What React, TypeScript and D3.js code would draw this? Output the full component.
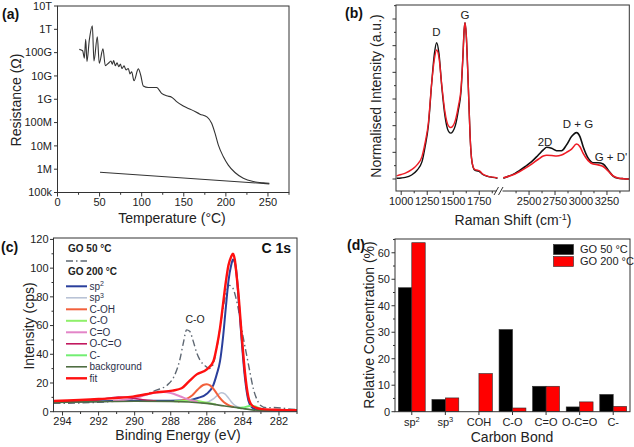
import React from 'react'
import * as d3 from 'd3'

const FONT = 'Arial, "Liberation Sans", Helvetica, sans-serif'
const RED = '#ee1c25'

// ---------- (a) resistance vs temperature ----------
const heatTemp = [25.9, 29.9, 31.9, 33.5, 35.0, 37.8, 41.4, 43.3, 47.3, 49.6, 54.0, 56.8, 60.4, 63.5, 65.1, 66.7, 68.7, 70.7, 72.7, 74.7, 76.6, 79.0, 81.4, 84.1, 86.1, 88.1, 90.9, 96.0, 98.8, 101.9, 107.8, 117.8, 123.7, 129.7, 135.6, 141.5, 149.4, 159.4, 169.2, 177.9, 183.1, 187.1, 191.0, 196.9, 202.9, 210.8, 220.7, 232.5, 244.4, 251.6]
const heatRes = [1.38e11, 1.2e11, 5.8e10, 3.7e11, 4.1e10, 3.5e11, 1.4e12, 4.4e10, 4.8e11, 3.5e10, 1.45e11, 2.75e10, 3.5e10, 4.4e10, 3.2e10, 4.6e10, 2.75e10, 3.7e10, 2.5e10, 3.2e10, 2.1e10, 2.7e10, 1.8e10, 2.1e10, 1.23e10, 1.5e10, 6.2e9, 2.0e10, 1.1e10, 3.7e9, 3.2e9, 3.2e9, 1.8e9, 1.4e9, 1.23e9, 7.9e8, 5.1e8, 3.5e8, 2.3e8, 1.7e8, 9.3e7, 3.5e7, 1.1e7, 3.5e6, 1.5e6, 7.2e5, 4.1e5, 2.95e5, 2.6e5, 2.5e5]
const coolTemp = [50.5, 251.6]
const coolRes = [7.4e5, 2.35e5]
const resTicks = [1e5, 1e6, 1e7, 1e8, 1e9, 1e10, 1e11, 1e12, 1e13]
const resLabels = ['100k', '1M', '10M', '100M', '1G', '10G', '100G', '1T', '10T']
const tempTicks = [0, 50, 100, 150, 200, 250]

// ---------- (b) Raman ----------
const wnLow = [956, 1000, 1040, 1100, 1150, 1200, 1229, 1261, 1293, 1319, 1340, 1363, 1389, 1421, 1453, 1475, 1495, 1520, 1550, 1575, 1593, 1605, 1613, 1625, 1638, 1650, 1662, 1675, 1690, 1710, 1735, 1755, 1780, 1830, 1880, 1925]
const go50Low = [0.03, 0.04, 0.06, 0.15, 0.32, 0.65, 1.2, 2.0, 3.6, 4.7, 5.11, 4.7, 3.5, 2.35, 1.8, 1.72, 1.78, 2.0, 2.6, 3.3, 4.6, 5.6, 5.86, 5.4, 4.2, 2.9, 1.6, 0.8, 0.45, 0.32, 0.3, 0.27, 0.18, 0.1, 0.06, 0.03]
const go200Low = [0.12, 0.17, 0.22, 0.35, 0.52, 0.85, 1.35, 2.1, 3.6, 4.5, 4.84, 4.55, 3.55, 2.5, 2.0, 1.93, 1.98, 2.2, 2.75, 3.4, 4.6, 5.6, 5.86, 5.4, 4.2, 2.9, 1.6, 0.8, 0.47, 0.35, 0.33, 0.3, 0.2, 0.11, 0.07, 0.04]
const wnHigh = [2252, 2365, 2461, 2525, 2589, 2637, 2670, 2717, 2765, 2813, 2861, 2909, 2957, 2990, 3021, 3069, 3117, 3165, 3213, 3261, 3309, 3357, 3410, 3462]
const go50High = [0.03, 0.21, 0.46, 0.65, 0.9, 1.09, 1.19, 1.15, 1.06, 1.06, 1.28, 1.59, 1.74, 1.59, 1.21, 0.78, 0.61, 0.61, 0.56, 0.34, 0.11, 0.03, 0.01, 0.0]
const go200High = [0.05, 0.19, 0.4, 0.56, 0.74, 0.86, 0.89, 0.88, 0.86, 0.9, 1.0, 1.12, 1.31, 1.21, 0.96, 0.69, 0.56, 0.53, 0.47, 0.3, 0.12, 0.04, 0.01, 0.0]
const ramanTicksLow = [1000, 1250, 1500, 1750]
const ramanTicksHigh = [2500, 2750, 3000, 3250]

// ---------- (c) XPS C 1s ----------
const xpsGo50 = [[294.5, 5.8], [292.5, 6.3], [291, 7.5], [290.1, 9.0], [289.5, 11.5], [288.8, 15.0], [288.2, 18.5], [287.8, 25], [287.5, 36], [287.3, 48], [287.12, 57], [286.95, 56], [286.75, 49], [286.56, 41], [286.38, 36], [286.1, 32], [285.85, 30], [285.65, 33], [285.45, 44], [285.27, 58], [285.1, 72], [284.9, 84], [284.75, 88], [284.6, 87], [284.4, 80], [284.2, 68], [284.0, 53], [283.8, 40], [283.6, 27], [283.4, 15], [283.2, 8], [283.05, 4.7], [282.7, 2.8], [282.3, 2.9], [281.9, 2.6], [281.5, 2.0], [281.0, 1.4]]
const xpsSp2 = [[294.5, 6.7], [292, 7.3], [290, 7.7], [288, 7.7], [287, 8.0], [286.5, 9.5], [286.0, 12.5], [285.64, 18.5], [285.45, 26], [285.27, 35], [285.1, 52], [284.95, 72], [284.8, 91], [284.65, 102], [284.55, 106], [284.45, 104], [284.35, 96], [284.26, 82], [284.07, 50], [283.89, 24], [283.7, 8], [283.5, 3], [283.3, 1.6], [283.0, 1.0], [282.5, 0.8], [281, 0.7]]
const xpsSp3 = [[286.3, 5.8], [285.9, 7.0], [285.6, 9.2], [285.4, 11.6], [285.2, 13.2], [285.0, 12.4], [284.8, 9.6], [284.6, 6.2], [284.4, 4.0], [284.1, 2.6], [283.8, 1.7]]
const xpsCOH = [[287.6, 7.1], [287.2, 8.5], [286.8, 11.5], [286.5, 15.5], [286.2, 18.6], [286.0, 19.2], [285.8, 18.2], [285.55, 14.5], [285.3, 10], [285.05, 6.6], [284.8, 4.6], [284.5, 3.3]]
const xpsCO = [[287.8, 7.2], [287.3, 7.6], [286.9, 7.8], [286.5, 7.4], [286.0, 6.2], [285.5, 5.0]]
const xpsCdO = [[291.2, 7.6], [290.5, 8.3], [289.9, 9.8], [289.3, 12], [288.8, 13.4], [288.4, 13.7], [288.0, 13.0], [287.5, 10.8], [287.0, 8.4], [286.5, 6.8]]
const xpsOCdO = [[292.8, 7.3], [292.0, 8.2], [291.4, 9.5], [290.9, 10.2], [290.4, 10.0], [289.9, 9.0], [289.3, 8.0], [288.8, 7.5]]
const xpsCm = [[284.3, 2.6], [284.0, 2.9], [283.7, 3.8], [283.5, 4.2], [283.3, 3.6], [283.05, 2.2], [282.8, 1.2], [282.5, 0.9]]
const xpsBg = [[294.5, 6.5], [292, 7.0], [290, 7.3], [288, 7.2], [287, 6.8], [286, 5.8], [285, 4.0], [284.5, 3.2], [284, 2.2], [283.5, 1.3], [283, 0.9], [282, 0.8], [281, 0.7]]
const xpsFit = [[294.5, 7.5], [292, 8.8], [290.1, 10.5], [288.8, 13.5], [287.9, 14.7], [287.4, 16.3], [287.0, 21], [286.56, 26], [286.0, 29.5], [285.64, 35], [285.45, 45], [285.27, 58], [285.1, 75], [284.95, 90], [284.8, 102], [284.65, 108], [284.55, 110], [284.45, 106], [284.35, 95], [284.26, 84], [284.07, 54], [283.89, 28], [283.7, 10.5], [283.5, 4.5], [283.2, 2.4], [282.9, 1.8], [282, 1.3], [281, 1.0]]
const xpsXTicks = [294, 292, 290, 288, 286, 284, 282]
const xpsYTicks = [0, 20, 40, 60, 80, 100, 120]

// ---------- (d) relative concentration ----------
const bonds = ['sp2', 'sp3', 'COH', 'C-O', 'C=O', 'O-C=O', 'C-']
const conc50 = [46.8, 4.6, 0, 31.0, 9.6, 1.8, 6.5]
const conc200 = [63.8, 5.2, 14.4, 1.4, 9.6, 3.7, 2.0]
const concTicks = [0, 10, 20, 30, 40, 50, 60]

const legendC = [
  { name: 'sp', sup: '2', color: '#2a3f9c', w: 2, data: xpsSp2 },
  { name: 'sp', sup: '3', color: '#b9c3d6', w: 1.6, data: xpsSp3 },
  { name: 'C-OH', sup: '', color: '#f2603c', w: 2, data: xpsCOH },
  { name: 'C-O', sup: '', color: '#8ff06a', w: 2, data: xpsCO },
  { name: 'C=O', sup: '', color: '#e385c8', w: 2, data: xpsCdO },
  { name: 'O-C=O', sup: '', color: '#c2185f', w: 1.6, data: xpsOCdO },
  { name: 'C-', sup: '', color: '#72ee72', w: 2, data: xpsCm },
  { name: 'background', sup: '', color: '#4f6e42', w: 1.6, data: xpsBg },
  { name: 'fit', sup: '', color: '#ff1010', w: 2.4, data: xpsFit },
]

const tickText = { fontFamily: FONT, fontSize: 11, fill: '#222' }
const titleText = { fontFamily: FONT, fontSize: 14, fill: '#222' }
const panelText = { fontFamily: FONT, fontSize: 14, fontWeight: 'bold' as const, fill: '#111' }

function Frame({ x0, x1, y0, y1 }: { x0: number; x1: number; y0: number; y1: number }) {
  return <rect x={x0} y={y0} width={x1 - x0} height={y1 - y0} fill="none" stroke="#333" strokeWidth={1} />
}

function PanelA() {
  const x = d3.scaleLinear().domain([0, 275]).range([57.5, 289])
  const y = d3.scaleLog().domain([1e5, 1e13]).range([192.5, 6])
  const heat = d3.line<number>().x(i => x(heatTemp[i])).y(i => y(heatRes[i])).curve(d3.curveMonotoneX)
  const cool = d3.line<number>().x(i => x(coolTemp[i])).y(i => y(coolRes[i]))
  const minor = d3.range(25, 276, 50)
  return (
    <g>
      <path d={heat(d3.range(heatTemp.length)) || ''} fill="none" stroke="#333" strokeWidth={1.1} />
      <path d={cool(d3.range(coolTemp.length)) || ''} fill="none" stroke="#333" strokeWidth={1.1} />
      <Frame x0={57.5} x1={289} y0={6} y1={192.5} />
      {resTicks.map((t, i) => (
        <g key={t}>
          <line x1={57.5} x2={54} y1={y(t)} y2={y(t)} stroke="#333" />
          <text x={52} y={y(t)} dy="0.35em" textAnchor="end" {...tickText}>{resLabels[i]}</text>
        </g>
      ))}
      {tempTicks.map(t => (
        <g key={t}>
          <line x1={x(t)} x2={x(t)} y1={192.5} y2={196.5} stroke="#333" />
          <text x={x(t)} y={205.5} textAnchor="middle" {...tickText}>{t}</text>
        </g>
      ))}
      {minor.map(t => <line key={t} x1={x(t)} x2={x(t)} y1={192.5} y2={194.8} stroke="#333" />)}
      <text x={2} y={19} {...panelText}>(a)</text>
      <text transform="translate(21,100) rotate(-90)" textAnchor="middle" {...titleText}>Resistance (Ω)</text>
      <text x={172} y={223} textAnchor="middle" {...titleText}>Temperature (°C)</text>
    </g>
  )
}

function PanelB() {
  const xl = d3.scaleLinear().domain([950, 1930]).range([396, 498])
  const xh = d3.scaleLinear().domain([2230, 3465]).range([501, 629.3])
  const y = d3.scaleLinear().domain([-0.45, 6.525]).range([191, 5])
  const lineL = (v: number[]) => d3.line<number>().x(i => xl(wnLow[i])).y(i => y(v[i])).curve(d3.curveMonotoneX)(d3.range(wnLow.length)) || ''
  const lineH = (v: number[]) => d3.line<number>().x(i => xh(wnHigh[i])).y(i => y(v[i])).curve(d3.curveMonotoneX)(d3.range(wnHigh.length)) || ''
  const yMajor = d3.range(0, 7)
  const yMinor = d3.range(0.5, 6.6, 1)
  const minorL = [1125, 1375, 1625, 1875]
  const minorH = [2375, 2625, 2875, 3125, 3375]
  const ann = { ...tickText, fontSize: 11.5 }
  return (
    <g>
      <path d={lineL(go50Low)} fill="none" stroke="#111" strokeWidth={1.4} />
      <path d={lineL(go200Low)} fill="none" stroke={RED} strokeWidth={1.4} />
      <path d={lineH(go50High)} fill="none" stroke="#111" strokeWidth={1.6} />
      <path d={lineH(go200High)} fill="none" stroke={RED} strokeWidth={1.6} />
      <Frame x0={396} x1={629.3} y0={5} y1={191} />
      <rect x={496.5} y={186} width={6} height={10} fill="#fff" />
      <line x1={494} y1={195} x2={498.5} y2={187} stroke="#333" />
      <line x1={498.5} y1={195} x2={503} y2={187} stroke="#333" />
      {yMajor.map(t => <line key={t} x1={396} x2={392.5} y1={y(t)} y2={y(t)} stroke="#333" />)}
      {yMinor.map(t => <line key={t} x1={396} x2={394} y1={y(t)} y2={y(t)} stroke="#333" />)}
      {ramanTicksLow.map(t => (
        <g key={t}>
          <line x1={xl(t)} x2={xl(t)} y1={191} y2={195} stroke="#333" />
          <text x={xl(t)} y={205} textAnchor="middle" {...tickText}>{t}</text>
        </g>
      ))}
      {ramanTicksHigh.map(t => (
        <g key={t}>
          <line x1={xh(t)} x2={xh(t)} y1={191} y2={195} stroke="#333" />
          <text x={xh(t)} y={205} textAnchor="middle" {...tickText}>{t}</text>
        </g>
      ))}
      {minorL.map(t => <line key={t} x1={xl(t)} x2={xl(t)} y1={191} y2={193.3} stroke="#333" />)}
      {minorH.map(t => <line key={t} x1={xh(t)} x2={xh(t)} y1={191} y2={193.3} stroke="#333" />)}
      <text x={xl(1338)} y={36} textAnchor="middle" {...ann}>D</text>
      <text x={xl(1612)} y={19} textAnchor="middle" {...ann}>G</text>
      <text x={545} y={146} textAnchor="middle" {...ann}>2D</text>
      <text x={578} y={128} textAnchor="middle" {...ann}>D + G</text>
      <text x={611} y={161} textAnchor="middle" {...ann}>G + D'</text>
      <text x={345} y={18} {...panelText}>(b)</text>
      <text transform="translate(381,96) rotate(-90)" textAnchor="middle" {...titleText}>Normalised Intensity (a.u.)</text>
      <text x={513} y={225} textAnchor="middle" {...titleText}>
        Raman Shift (cm<tspan dy={-5} fontSize={9}>-1</tspan><tspan dy={5}>)</tspan>
      </text>
    </g>
  )
}

function PanelC() {
  const x = d3.scaleLinear().domain([294.5, 281]).range([53.5, 297])
  const y = d3.scaleLinear().domain([0, 121]).range([411.7, 238])
  const line = d3.line<number[]>().x(d => x(d[0])).y(d => y(d[1])).curve(d3.curveMonotoneX)
  const rows = legendC.map((_, i) => 286.3 + i * 11.5)
  return (
    <g>
      <defs>
        <clipPath id="clipC"><rect x={53.5} y={238} width={243.5} height={173.7} /></clipPath>
      </defs>
      <g clipPath="url(#clipC)">
        <path d={line(xpsGo50) || ''} fill="none" stroke="#5f6873" strokeWidth={1.4} strokeDasharray="7,3,1.5,3" />
        {legendC.map(s => (
          <path key={s.name + s.sup} d={line(s.data) || ''} fill="none" stroke={s.color} strokeWidth={s.w} />
        ))}
      </g>
      <Frame x0={53.5} x1={297} y0={238} y1={411.7} />
      {xpsYTicks.map(t => (
        <g key={t}>
          <line x1={53.5} x2={50} y1={y(t)} y2={y(t)} stroke="#333" />
          <text x={48.5} y={y(t)} dy="0.35em" textAnchor="end" {...tickText}>{t}</text>
        </g>
      ))}
      {d3.range(10, 121, 20).map(t => <line key={t} x1={53.5} x2={51.5} y1={y(t)} y2={y(t)} stroke="#333" />)}
      {xpsXTicks.map(t => (
        <g key={t}>
          <line x1={x(t)} x2={x(t)} y1={411.7} y2={415.5} stroke="#333" />
          <text x={x(t)} y={425} textAnchor="middle" {...tickText}>{t}</text>
        </g>
      ))}
      {d3.range(293, 280, -2).map(t => <line key={t} x1={x(t)} x2={x(t)} y1={411.7} y2={414} stroke="#333" />)}
      <text x={68} y={252} fontFamily={FONT} fontSize={10} fontWeight="bold" fill="#222">GO 50 °C</text>
      <line x1={66} x2={87} y1={261} y2={261} stroke="#5f6873" strokeWidth={1.4} strokeDasharray="7,3,1.5,3" />
      <text x={68} y={275} fontFamily={FONT} fontSize={10} fontWeight="bold" fill="#222">GO 200 °C</text>
      {legendC.map((s, i) => (
        <g key={'lg' + s.name + s.sup}>
          <line x1={66} x2={87} y1={rows[i]} y2={rows[i]} stroke={s.color} strokeWidth={s.w} />
          <text x={89.5} y={rows[i]} dy="0.35em" fontFamily={FONT} fontSize={10} fill="#2b2f4a">
            {s.name}{s.sup && <tspan dy={-3.5} fontSize={7}>{s.sup}</tspan>}
          </text>
        </g>
      ))}
      <text x={291} y={253} textAnchor="end" {...panelText} fontSize={14}>C 1s</text>
      <text x={195} y={323} textAnchor="middle" fontFamily={FONT} fontSize={10.5} fill="#222">C-O</text>
      <text x={1} y={252} {...panelText}>(c)</text>
      <text transform="translate(34,326) rotate(-90)" textAnchor="middle" {...titleText}>Intensity (cps)</text>
      <text x={178} y={440} textAnchor="middle" {...titleText}>Binding Energy (eV)</text>
    </g>
  )
}

function PanelD() {
  const x = d3.scaleBand<string>().domain(bonds).range([395, 630]).paddingInner(0.2).paddingOuter(0.1)
  const inner = d3.scaleBand<string>().domain(['50', '200']).range([0, x.bandwidth()])
  const y = d3.scaleLinear().domain([0, 65.2]).range([411.7, 239])
  const bar = (vals: number[], key: string, fill: string) =>
    bonds.map((b, i) =>
      vals[i] > 0 ? (
        <rect key={key + b} x={(x(b) || 0) + (inner(key) || 0)} y={y(vals[i])} width={inner.bandwidth()}
          height={y(0) - y(vals[i])} fill={fill} stroke="#2a2a2a" strokeWidth={0.6} />
      ) : null
    )
  return (
    <g>
      {bar(conc50, '50', '#000')}
      {bar(conc200, '200', '#ff0000')}
      <Frame x0={395} x1={630} y0={239} y1={411.7} />
      {concTicks.map(t => (
        <g key={t}>
          <line x1={395} x2={391.5} y1={y(t)} y2={y(t)} stroke="#333" />
          <text x={390} y={y(t)} dy="0.35em" textAnchor="end" {...tickText}>{t}</text>
        </g>
      ))}
      {d3.range(5, 66, 10).map(t => <line key={t} x1={395} x2={393} y1={y(t)} y2={y(t)} stroke="#333" />)}
      {bonds.map(b => {
        const cx = (x(b) || 0) + x.bandwidth() / 2
        const isSp = b.startsWith('sp')
        return (
          <g key={'t' + b}>
            <line x1={cx} x2={cx} y1={411.7} y2={415} stroke="#333" />
            <text x={cx} y={426} textAnchor="middle" {...tickText}>
              {isSp ? 'sp' : b}{isSp && <tspan dy={-4} fontSize={7.5}>{b.slice(2)}</tspan>}
            </text>
          </g>
        )
      })}
      <rect x={553.5} y={244.5} width={20} height={10} fill="#000" stroke="#2a2a2a" strokeWidth={0.6} />
      <rect x={553.5} y={256.5} width={20} height={10} fill="#ff0000" stroke="#2a2a2a" strokeWidth={0.6} />
      <text x={580} y={249.5} dy="0.35em" {...tickText}>GO 50 °C</text>
      <text x={580} y={261.5} dy="0.35em" {...tickText}>GO 200 °C</text>
      <text x={347} y={250} {...panelText}>(d)</text>
      <text transform="translate(374,325) rotate(-90)" textAnchor="middle" {...titleText}>Relative Concentration (%)</text>
      <text x={512} y={442} textAnchor="middle" {...titleText}>Carbon Bond</text>
    </g>
  )
}

export default function App() {
  return (
    <svg width={634} height={447} viewBox="0 0 634 447"
      style={{ position: 'fixed', left: 0, top: 0, background: '#fff' }}>
      <rect width={634} height={447} fill="#fff" />
      <PanelA />
      <PanelB />
      <PanelC />
      <PanelD />
    </svg>
  )
}
